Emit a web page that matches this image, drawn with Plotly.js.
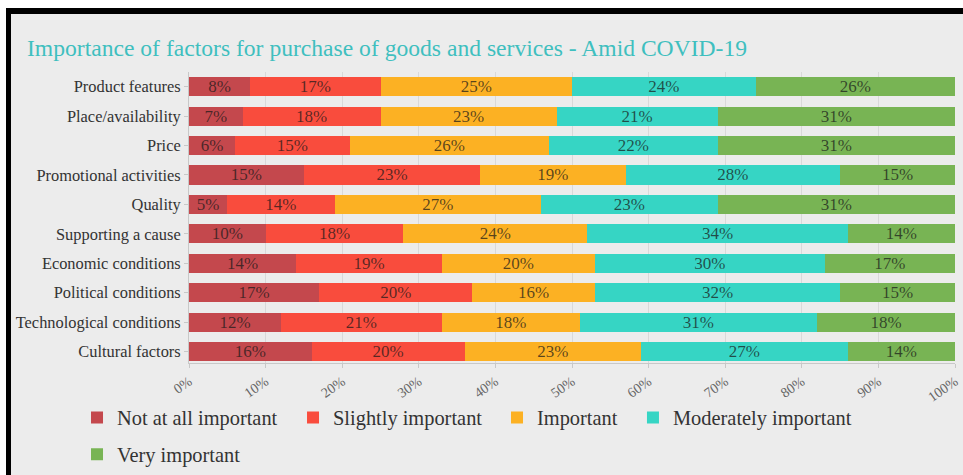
<!DOCTYPE html>
<html>
<head>
<meta charset="utf-8">
<script src="https://cdn.plot.ly/plotly-3.0.1.min.js"></script>
<style>
  html, body { margin: 0; padding: 0; background: #ffffff; width: 963px; height: 475px; overflow: hidden; }
  #frame { position: absolute; left: 6px; top: 8px; width: 952px; height: 461px;
           border-top: 6px solid #000; border-left: 5px solid #000; background: #ececec; }
  #chart { width: 952px; height: 461px; }
</style>
</head>
<body>
<div id="frame"><div id="chart"></div></div>
<script>
const categories = ["Product features", "Place/availability", "Price", "Promotional activities", "Quality",
  "Supporting a cause", "Economic conditions", "Political conditions", "Technological conditions", "Cultural factors"];
const seriesNames = ["Not at all important", "Slightly important", "Important", "Moderately important", "Very important"];
const notAtAll   = [8, 7, 6, 15, 5, 10, 14, 17, 12, 16];
const slightly   = [17, 18, 15, 23, 14, 18, 19, 20, 21, 20];
const important  = [25, 23, 26, 19, 27, 24, 20, 16, 18, 23];
const moderately = [24, 21, 22, 28, 23, 34, 30, 32, 31, 27];
const very       = [26, 31, 31, 15, 31, 14, 17, 15, 18, 14];
const tickVals = [0, 10, 20, 30, 40, 50, 60, 70, 80, 90, 100];
const tickText = ["0%", "10%", "20%", "30%", "40%", "50%", "60%", "70%", "80%", "90%", "100%"];

const colors = ["#c4484d", "#f94c3d", "#fcb123", "#36d5c4", "#78b454"];
const values = [notAtAll, slightly, important, moderately, very];
const FAM = "Liberation Serif";
const legendIds = ["legend", "legend2", "legend3", "legend4", "legend5"];

const traces = values.map((v, i) => ({
  type: "bar",
  orientation: "h",
  name: seriesNames[i],
  y: categories,
  x: v,
  marker: { color: colors[i] },
  text: v.map(n => n + "%"),
  textposition: "inside",
  insidetextanchor: "middle",
  textangle: 0,
  constraintext: "none",
  textfont: { family: FAM, size: 17, color: "rgba(25,25,25,0.72)" },
  insidetextfont: { family: FAM, size: 17, color: "rgba(25,25,25,0.72)" },
  hoverinfo: "none",
  legend: legendIds[i]
}));

// legend entry placement (paper coords): four on the first row, one on the second
const legendX = [-0.1462, 0.1358, 0.4021, 0.5796, -0.1462];
const legendY = [-0.188, -0.188, -0.188, -0.188, -0.3145];

const layout = {
  width: 952, height: 461,
  paper_bgcolor: "#ececec",
  plot_bgcolor: "#ececec",
  barmode: "stack",
  bargap: 0.35,
  margin: { l: 178, r: 8, t: 58, b: 112, autoexpand: false },
  title: {
    text: "Importance of factors for purchase of goods and services - Amid COVID-19",
    font: { family: FAM, size: 23.6, color: "#3fbfbf" },
    x: 16 / 952, xanchor: "left", xref: "container",
    y: 1 - 34 / 461, yanchor: "middle", yref: "container"
  },
  xaxis: {
    range: [0, 100],
    tickvals: tickVals, ticktext: tickText,
    tickangle: -35,
    tickfont: { family: FAM, size: 14, color: "#666" },
    showgrid: true, gridcolor: "#d9d9d9", gridwidth: 1,
    showline: true, linecolor: "#c8c8c8", linewidth: 1,
    ticks: "outside", ticklen: 4, tickcolor: "#c8c8c8",
    zeroline: false, fixedrange: true
  },
  yaxis: {
    type: "category",
    range: [9.39, -0.5],
    tickfont: { family: FAM, size: 16.4, color: "#333" },
    showline: true, linecolor: "#c8c8c8", linewidth: 1,
    ticks: "outside", ticklen: 4, tickcolor: "#c8c8c8",
    showgrid: false, zeroline: false, fixedrange: true
  },
  showlegend: true
};

legendIds.forEach((id, i) => {
  layout[id] = {
    orientation: "h",
    x: legendX[i], xanchor: "left",
    y: legendY[i], yanchor: "middle",
    font: { family: FAM, size: 20.4, color: "#333" },
    bgcolor: "rgba(0,0,0,0)"
  };
});

Plotly.newPlot("chart", traces, layout, { displayModeBar: false });
</script>
</body>
</html>
